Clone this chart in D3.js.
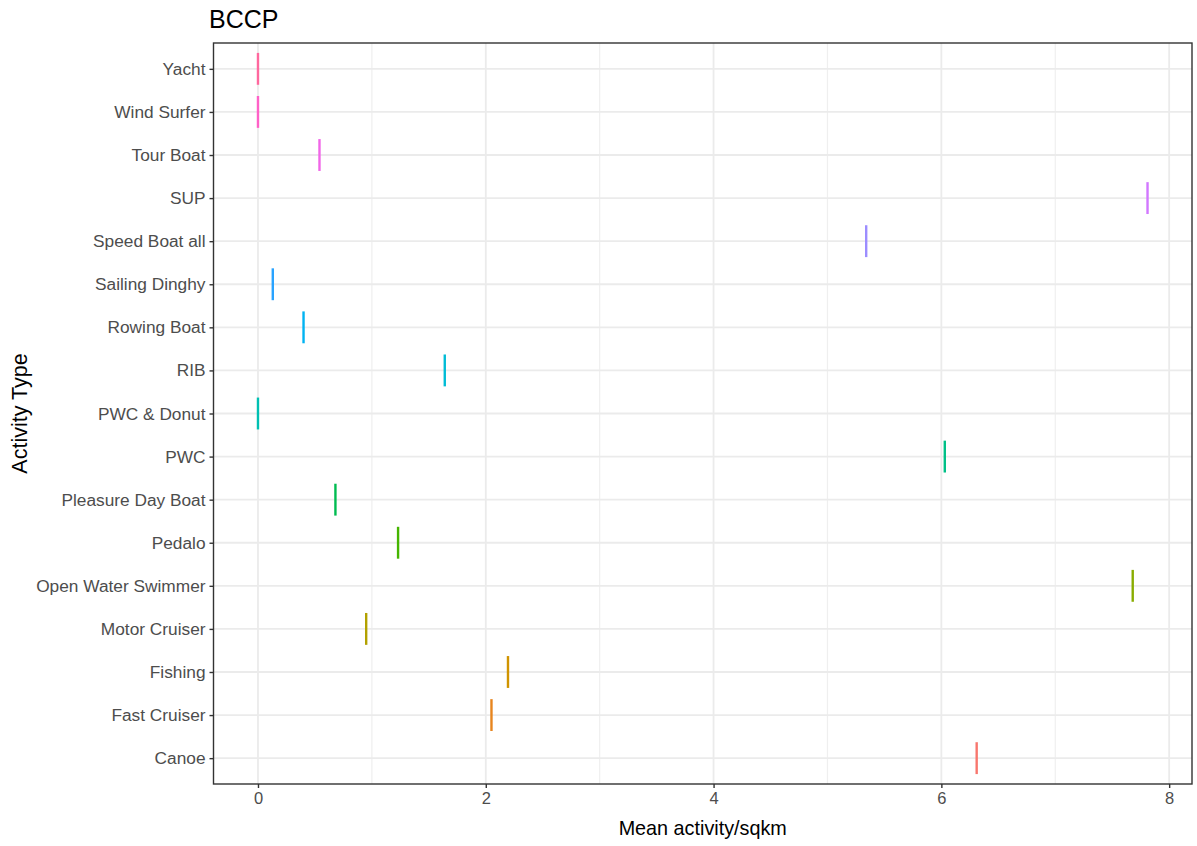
<!DOCTYPE html>
<html>
<head>
<meta charset="utf-8">
<script src="https://cdn.jsdelivr.net/npm/d3@7"></script>
<style>
  html, body { margin: 0; padding: 0; background: #fff; }
  svg { display: block; font-family: "Liberation Sans", Arial, sans-serif; }
</style>
</head>
<body>
<svg id="chart" width="1197" height="846"></svg>
<script>
// ---- data ----
// factor level order (alphabetical, as in R) — drives colour assignment
const levels = ["Canoe", "Fast Cruiser", "Fishing", "Motor Cruiser", "Open Water Swimmer",
  "Pedalo", "Pleasure Day Boat", "PWC", "PWC & Donut", "RIB", "Rowing Boat",
  "Sailing Dinghy", "Speed Boat all", "SUP", "Tour Boat", "Wind Surfer", "Yacht"];
// mean activity per sqkm, same order as levels
const values = [6.31, 2.05, 2.195, 0.95, 7.68,
  1.23, 0.68, 6.03, 0.0, 1.64, 0.40,
  0.13, 5.34, 7.81, 0.54, 0.0, 0.0];
const xTicks = [0, 2, 4, 6, 8];
const xMinor = [1, 3, 5, 7];
const title = "BCCP";
const xTitle = "Mean activity/sqkm";
const yTitle = "Activity Type";

// ---- ggplot2 hue palette (polar CIE-LUV, as grDevices::hcl) ----
function hclLuv(h, c, l) {
  const WY = 100, Wu = 0.1978398, Wv = 0.4683363;
  const hr = h * Math.PI / 180;
  const U = c * Math.cos(hr), V = c * Math.sin(hr);
  const Y = WY * (l > 7.999592 ? Math.pow((l + 16) / 116, 3) : l / 903.3);
  const u = U / (13 * l) + Wu, v = V / (13 * l) + Wv;
  const X = 9.0 * Y * u / (4 * v);
  const Z = -X / 3 - 5 * Y + 3 * Y / v;
  const g = t => t > 0.00304 ? 1.055 * Math.pow(t, 1 / 2.4) - 0.055 : 12.92 * t;
  const cl = t => Math.max(0, Math.min(1, t));
  const r = cl(g((3.240479 * X - 1.537150 * Y - 0.498535 * Z) / WY));
  const gg = cl(g((-0.969256 * X + 1.875992 * Y + 0.041556 * Z) / WY));
  const b = cl(g((0.055648 * X - 0.204043 * Y + 1.057311 * Z) / WY));
  return d3.rgb(Math.round(r * 255), Math.round(gg * 255), Math.round(b * 255)).formatHex();
}
const n = levels.length;
const palette = d3.range(n).map(i => hclLuv(15 + 360 * i / n, 100, 65));

const data = levels.map((k, i) => ({ cat: k, value: values[i], color: palette[i] }));

// ---- layout ----
const svg = d3.select("#chart");
const P = { left: 213.5, right: 1192, top: 43, bottom: 784 };
const FONT = "'Liberation Sans', Arial, sans-serif";

const xExtent = [Math.min(0, d3.min(values)), d3.max(values)];
const xPad = (xExtent[1] - xExtent[0]) * 0.05;
const x = d3.scaleLinear().domain([xExtent[0] - xPad, xExtent[1] + xPad]).range([P.left, P.right]);

// discrete y: first level at bottom, 0.6 unit expansion each side
const unit = (P.bottom - P.top) / (n - 1 + 1.2);
const yPos = i => P.bottom - (0.6 + i) * unit;
const y = d3.scalePoint().domain(levels).range([yPos(0), yPos(n - 1)]);

// grid
const grid = svg.append("g");
grid.selectAll(".minor").data(xMinor).join("line")
  .attr("x1", d => x(d)).attr("x2", d => x(d))
  .attr("y1", P.top).attr("y2", P.bottom)
  .attr("stroke", "#EFEFEF").attr("stroke-width", 1.2);
grid.selectAll(".majx").data(xTicks).join("line")
  .attr("x1", d => x(d)).attr("x2", d => x(d))
  .attr("y1", P.top).attr("y2", P.bottom)
  .attr("stroke", "#EBEBEB").attr("stroke-width", 1.8);
grid.selectAll(".majy").data(levels).join("line")
  .attr("x1", P.left).attr("x2", P.right)
  .attr("y1", d => y(d)).attr("y2", d => y(d))
  .attr("stroke", "#EBEBEB").attr("stroke-width", 1.8);

// marks: vertical segments
const halfLen = unit * 0.74 / 2;
svg.append("g").selectAll("line").data(data).join("line")
  .attr("x1", d => x(d.value)).attr("x2", d => x(d.value))
  .attr("y1", d => y(d.cat) - halfLen).attr("y2", d => y(d.cat) + halfLen)
  .attr("stroke", d => d.color).attr("stroke-width", 2.4);

// panel border
svg.append("rect")
  .attr("x", P.left).attr("y", P.top)
  .attr("width", P.right - P.left).attr("height", P.bottom - P.top)
  .attr("fill", "none").attr("stroke", "#333333").attr("stroke-width", 1.4);

// x axis
const xAxis = svg.append("g").attr("transform", `translate(0,${P.bottom})`)
  .call(d3.axisBottom(x).tickValues(xTicks).tickSize(4).tickPadding(4).tickFormat(d3.format("d")));
xAxis.select(".domain").remove();
xAxis.selectAll(".tick line").attr("stroke", "#333333").attr("stroke-width", 1.4);
xAxis.selectAll(".tick text").attr("fill", "#4D4D4D").style("font-size", "16.5px")
  .style("font-family", FONT);

// y axis
const yAxis = svg.append("g").attr("transform", `translate(${P.left},0)`)
  .call(d3.axisLeft(y).tickSize(4).tickPadding(4));
yAxis.select(".domain").remove();
yAxis.selectAll(".tick line").attr("stroke", "#333333").attr("stroke-width", 1.4);
yAxis.selectAll(".tick text").attr("fill", "#4D4D4D").style("font-size", "17.3px")
  .style("font-family", FONT);

// titles
svg.append("text").attr("x", 209).attr("y", 28)
  .style("font-size", "25px").attr("fill", "#000").text(title);
svg.append("text").attr("x", (P.left + P.right) / 2).attr("y", 835)
  .attr("text-anchor", "middle").style("font-size", "19.8px").attr("fill", "#000").text(xTitle);
svg.append("text")
  .attr("transform", `translate(27,${(P.top + P.bottom) / 2}) rotate(-90)`)
  .attr("text-anchor", "middle").style("font-size", "21.5px").attr("fill", "#000").text(yTitle);
</script>
</body>
</html>
